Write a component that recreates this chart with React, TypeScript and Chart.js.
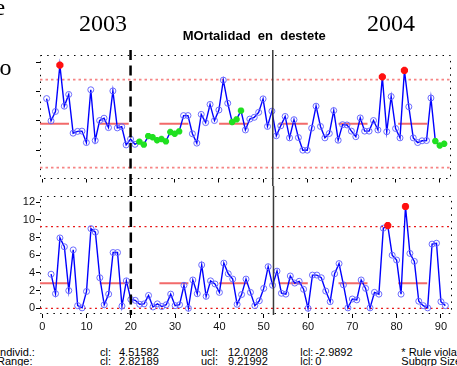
import React, { useEffect, useRef } from 'react';
import { Chart, registerables } from 'chart.js';

Chart.register(...registerables);

// ---------- data ----------
// Individual values, samples 1..91
const individuals = [
  8.8, 5.0, 6.6, 14.5, 7.5, 9.5, 2.9, 3.2, 3.25, 1.3,
  10.3, 1.65, 5.05, 5.45, 3.85, 10.1, 3.8, 4.0, 0.9, 1.9,
  1.0, 1.45, 0.95, 2.4, 2.2, 1.7, 1.9, 1.5, 3.1, 2.8,
  3.2, 5.9, 5.9, 2.8, 1.2, 6.1, 4.7, 7.8, 5.05, 6.85,
  11.95, 8.0, 4.8, 5.25, 6.75, 3.45, 5.3, 5.6, 6.45, 8.75,
  4.05, 6.65, 2.45, 4.15, 5.75, 2.1, 5.2, 2.15, 0.0, 0.0,
  3.75, 7.5, 4.05, 2.1, 2.85, 6.75, 1.7, 4.35, 4.3, 3.25,
  2.3, 5.5, 3.25, 3.25, 5.05, 3.45, 12.5, 3.15, 9.15, 3.7,
  2.1, 13.6, 7.4, 2.1, 1.3, 1.6, 1.65, 8.9, 1.55, 0.8, 1.1,
];
// Moving ranges, samples 2..91
const movingRange = [
  3.85, 1.65, 7.95, 6.95, 2.0, 6.6, 0.3, 0.05, 1.9, 9.0,
  8.6, 3.45, 0.4, 1.6, 6.3, 6.3, 0.25, 3.1, 1.0, 0.9,
  0.45, 0.5, 1.45, 0.15, 0.5, 0.2, 0.4, 1.6, 0.3, 0.4,
  2.6, 0.0, 3.2, 1.65, 4.9, 1.35, 3.1, 2.75, 1.8, 5.1,
  3.9, 3.3, 0.45, 1.55, 3.3, 1.8, 0.3, 0.85, 2.25, 4.7,
  2.6, 4.2, 1.7, 1.6, 3.65, 2.85, 3.05, 2.15, 0.0, 3.75,
  3.75, 3.45, 1.95, 0.75, 3.9, 5.05, 2.65, 0.05, 1.05, 0.95,
  3.2, 2.25, 0.05, 1.8, 1.6, 9.05, 9.35, 6.0, 5.45, 1.6,
  11.5, 6.2, 5.3, 0.8, 0.3, 0.05, 7.25, 7.35, 0.75, 0.3,
];
const indCL = 4.51582;
const indUCL = 12.0208;
const indLCL = -2.9892;
const mrCL = 2.82189;
const mrUCL = 9.21992;
const mrLCL = 0;

const redIndividuals = [4, 77, 82];
const greenIndividuals = [22, 23, 24, 25, 26, 27, 28, 29, 30, 31, 43, 44, 45, 89, 90, 91];
const redMovingRange = [78, 82];

const xTicks = [0, 10, 20, 30, 40, 50, 60, 70, 80, 90];
const indYTicks = [0, 5, 10, 15];
const mrYTicks = [0, 2, 4, 6, 8, 10, 12];
const phaseBreak = 20;
const yearBreak = 52.2;

const statsRows = [
  { name: 'Individ.:', cl: '4.51582', ucl: '12.0208', lcl: '-2.9892', note: '* Rule violations' },
  { name: 'Range:', cl: '2.82189', ucl: '9.21992', lcl: '0', note: 'Subgrp Size: 1' },
];

// ---------- layout ----------
const W = 457;
const H = 366;
const X_MIN = -0.5;
const X_MAX = 92.5;
const TOP_H = 186;
const BOT_TOP = 186;
const BOT_H = 154;
const BOT_FRAME_BOTTOM = 314;

const framePlugin = {
  id: 'frame',
  beforeDatasetsDraw(chart: any) {
    const { ctx, chartArea: a } = chart;
    ctx.save();
    ctx.strokeStyle = '#000';
    ctx.lineWidth = 1;
    ctx.setLineDash([1.5, 5.2]);
    ctx.strokeRect(Math.round(a.left) + 0.5, Math.round(a.top) + 0.5,
      Math.round(a.right - a.left) - 1, Math.round(a.bottom - a.top) - 1);
    ctx.restore();
  },
  afterDatasetsDraw(chart: any, _args: any, opts: any) {
    const { ctx } = chart;
    const xs = chart.scales.x;
    ctx.save();
    const p1 = xs.getPixelForValue(phaseBreak);
    ctx.strokeStyle = '#000';
    ctx.lineWidth = 2.5;
    ctx.setLineDash([10, 5.5]);
    ctx.beginPath();
    ctx.moveTo(p1, opts.y0);
    ctx.lineTo(p1, opts.y1);
    ctx.stroke();
    const p2 = xs.getPixelForValue(yearBreak);
    ctx.strokeStyle = '#3a3a3a';
    ctx.lineWidth = 1.5;
    ctx.setLineDash([]);
    ctx.beginPath();
    ctx.moveTo(p2, opts.y0);
    ctx.lineTo(p2, opts.y1);
    ctx.stroke();
    ctx.restore();
  },
};

function pointStyles(n: number, first: number, red: number[], green: number[]) {
  const style: string[] = [];
  const border: string[] = [];
  const width: number[] = [];
  const radius: number[] = [];
  for (let i = 0; i < n; i++) {
    const s = i + first;
    if (red.includes(s)) {
      style.push('star'); border.push('#ff1010'); width.push(2.6); radius.push(3.6);
    } else if (green.includes(s)) {
      style.push('star'); border.push('#20e020'); width.push(2.2); radius.push(3.2);
    } else {
      style.push('circle'); border.push('rgba(100,100,255,0.95)'); width.push(1); radius.push(3);
    }
  }
  return { style, border, width, radius };
}

function limitLine(y: number, color: string, dash: number[], width: number) {
  return {
    data: [{ x: X_MIN, y }, { x: X_MAX, y }],
    borderColor: color,
    borderWidth: width,
    borderDash: dash,
    pointRadius: 0,
    fill: false,
  };
}

function makeChart(canvas: HTMLCanvasElement, cfg: {
  values: number[]; first: number; red: number[]; green: number[];
  cl: number; ucl: number; lcl: number; yMin: number; yMax: number; yTicks: number[];
  padding: any; showLabels: boolean; yAxisWidth: number; xAxisHeight: number;
  limitColor: string; limitDash: number[]; limitWidth: number;
  vy0: number; vy1: number;
}) {
  const ps = pointStyles(cfg.values.length, cfg.first, cfg.red, cfg.green);
  const tickFont = { family: "'Liberation Sans', Arial, sans-serif", size: 11 };
  return new Chart(canvas, {
    type: 'line',
    data: {
      datasets: [
        {
          data: cfg.values.map((v, i) => ({ x: i + cfg.first, y: v })),
          borderColor: '#0000ff',
          borderWidth: 1.4,
          pointStyle: ps.style as any,
          pointBorderColor: ps.border,
          pointBackgroundColor: 'rgba(0,0,0,0)',
          pointBorderWidth: ps.width,
          pointRadius: ps.radius,
          fill: false,
          tension: 0,
        } as any,
        limitLine(cfg.cl, 'rgba(240,80,80,0.85)', [29, 30.7], 2),
        limitLine(cfg.ucl, cfg.limitColor, cfg.limitDash, cfg.limitWidth),
        limitLine(cfg.lcl, cfg.limitColor, cfg.limitDash, cfg.limitWidth),
      ],
    },
    options: {
      animation: false,
      responsive: false,
      devicePixelRatio: 1,
      events: [],
      layout: { padding: cfg.padding },
      plugins: {
        legend: { display: false },
        tooltip: { enabled: false },
        frame: { y0: cfg.vy0, y1: cfg.vy1 },
      } as any,
      scales: {
        x: {
          type: 'linear',
          min: X_MIN,
          max: X_MAX,
          afterBuildTicks: (s: any) => { s.ticks = xTicks.map((v) => ({ value: v })); },
          afterFit: (s: any) => { s.height = cfg.xAxisHeight; },
          grid: { display: true, drawOnChartArea: false, drawTicks: true, tickLength: 4, color: '#000', lineWidth: 1 },
          border: { display: false },
          ticks: { display: cfg.showLabels, padding: 2, color: '#111', font: tickFont, maxRotation: 0, autoSkip: false },
        },
        y: {
          type: 'linear',
          min: cfg.yMin,
          max: cfg.yMax,
          afterBuildTicks: (s: any) => { s.ticks = cfg.yTicks.map((v) => ({ value: v })); },
          afterFit: (s: any) => { s.width = cfg.yAxisWidth; },
          grid: { display: true, drawOnChartArea: false, drawTicks: true, tickLength: 4, color: '#000', lineWidth: 1 },
          border: { display: false },
          ticks: { display: cfg.showLabels, padding: 1, color: '#111', font: tickFont, autoSkip: false },
        },
      },
    } as any,
    plugins: [framePlugin as any],
  });
}

const sans = "'Liberation Sans', Arial, sans-serif";
const serif = "'Liberation Serif', 'Times New Roman', serif";

function Txt(props: { x: number; y: number; size: number; family: string; bold?: boolean; children: React.ReactNode }) {
  return (
    <div style={{
      position: 'absolute', left: props.x, top: props.y, fontSize: props.size, lineHeight: 1,
      fontFamily: props.family, fontWeight: props.bold ? 'bold' : 'normal', whiteSpace: 'pre', color: '#000',
    }}>{props.children}</div>
  );
}

export default function App() {
  const topRef = useRef<HTMLCanvasElement>(null);
  const botRef = useRef<HTMLCanvasElement>(null);

  useEffect(() => {
    document.body.style.margin = '0';
    const top = makeChart(topRef.current!, {
      values: individuals, first: 1, red: redIndividuals, green: greenIndividuals,
      cl: indCL, ucl: indUCL, lcl: indLCL, yMin: -4.83, yMax: 16.23, yTicks: indYTicks,
      padding: { left: 40, right: 1.3, top: 55, bottom: TOP_H - 178.5 }, showLabels: false,
      yAxisWidth: 0, xAxisHeight: 0,
      limitColor: 'rgba(245,110,110,0.85)', limitDash: [2.5, 3], limitWidth: 1.8,
      vy0: 50, vy1: TOP_H,
    });
    const bot = makeChart(botRef.current!, {
      values: movingRange, first: 2, red: redMovingRange, green: [],
      cl: mrCL, ucl: mrUCL, lcl: mrLCL, yMin: -0.644, yMax: 12.72, yTicks: mrYTicks,
      padding: { left: 0, right: 1.3, top: 195.7 - BOT_TOP, bottom: 0 }, showLabels: true,
      yAxisWidth: 40, xAxisHeight: BOT_TOP + BOT_H - BOT_FRAME_BOTTOM,
      limitColor: '#e81818', limitDash: [2, 3.5], limitWidth: 1.2,
      vy0: 0, vy1: 315 - BOT_TOP,
    });
    return () => { top.destroy(); bot.destroy(); };
  }, []);

  return (
    <div style={{ position: 'fixed', left: 0, top: 0, width: W, height: H, overflow: 'hidden', background: '#fff' }}>
      <canvas ref={topRef} width={W} height={TOP_H} style={{ position: 'absolute', left: 0, top: 0 }} />
      <canvas ref={botRef} width={W} height={BOT_H} style={{ position: 'absolute', left: 0, top: BOT_TOP }} />
      <Txt x={-5.5} y={-5.1} size={24} family={serif}>e</Txt>
      <Txt x={-0.5} y={54.9} size={24} family={serif}>o</Txt>
      <Txt x={79} y={10.9} size={24} family={serif}>2003</Txt>
      <Txt x={367} y={10.9} size={24} family={serif}>2004</Txt>
      <Txt x={182.7} y={29} size={13} family={sans} bold>{'MOrtalidad  en  destete'}</Txt>
      {statsRows.map((r, k) => {
        const y = 346.7 + k * 9.3;
        return (
          <React.Fragment key={k}>
            <Txt x={-3} y={y} size={11} family={sans}>{r.name}</Txt>
            <Txt x={100} y={y} size={11} family={sans}>cl:</Txt>
            <Txt x={119} y={y} size={11} family={sans}>{r.cl}</Txt>
            <Txt x={201} y={y} size={11} family={sans}>ucl:</Txt>
            <Txt x={228} y={y} size={11} family={sans}>{r.ucl}</Txt>
            <Txt x={300.3} y={y} size={10.6} family={sans}>lcl:</Txt>
            <Txt x={315.3} y={y} size={11} family={sans}>{r.lcl}</Txt>
            <Txt x={401.3} y={y} size={11} family={sans}>{r.note}</Txt>
          </React.Fragment>
        );
      })}
    </div>
  );
}
